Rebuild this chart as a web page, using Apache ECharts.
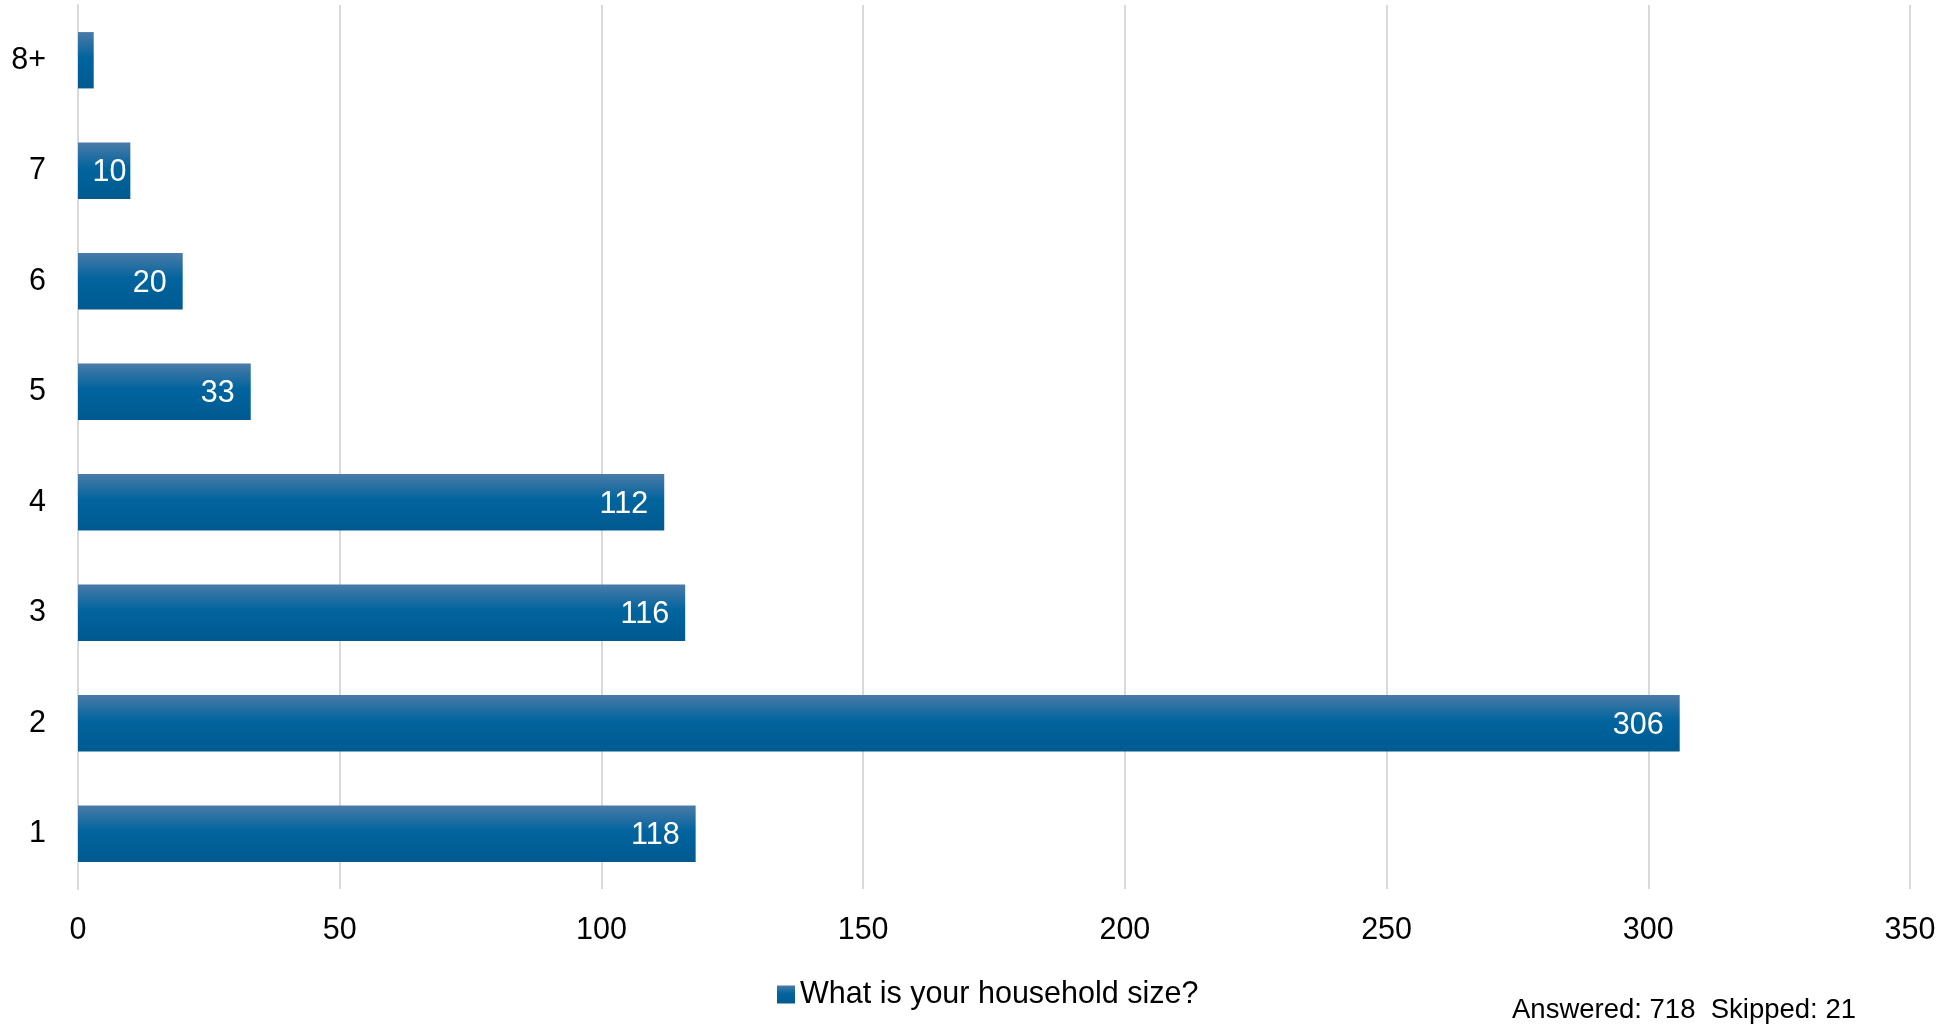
<!DOCTYPE html>
<html><head><meta charset="utf-8">
<script src="https://cdn.jsdelivr.net/npm/echarts@6/dist/echarts.min.js"></script>
<style>html,body{margin:0;padding:0;background:#fff}#c{width:1954px;height:1026px}</style>
</head><body><div id="c"></div>
<script>
const categories = ['1','2','3','4','5','6','7','8+'];
const values = [118, 306, 116, 112, 33, 20, 10, 3];
const labelShown = [true, true, true, true, true, true, true, false];
const seriesName = 'What is your household size?';
const footnote = 'Answered: 718  Skipped: 21';
const xMin = 0, xMax = 350, xInterval = 50;

const chart = echarts.init(document.getElementById('c'));
const font = '"Liberation Sans", Arial, sans-serif';
const grad = new echarts.graphic.LinearGradient(0, 0, 0, 1, [
  {offset: 0, color: '#4a7ba8'},
  {offset: 0.45, color: '#02649e'},
  {offset: 1, color: '#005a90'}
]);
chart.setOption({
  animation: false,
  grid: {left: 78, right: 44, top: 5, bottom: 137, containLabel: false},
  xAxis: {
    type: 'value', min: xMin, max: xMax, interval: xInterval,
    axisLine: {show: false}, axisTick: {show: false},
    splitLine: {show: true, lineStyle: {color: '#d9d9d9', width: 2}},
    axisLabel: {color: '#000', fontSize: 30.5, fontFamily: font, margin: 26}
  },
  yAxis: {
    type: 'category', data: categories,
    axisLine: {show: true, lineStyle: {color: '#d9d9d9', width: 2}},
    axisTick: {show: false},
    axisLabel: {color: '#000', fontSize: 30.5, fontFamily: font, margin: 32}
  },
  legend: {
    data: [seriesName], left: 772, top: 974, itemWidth: 18, itemHeight: 18, itemGap: 9,
    icon: 'rect',
    textStyle: {color: '#000', fontSize: 30.5, fontFamily: font}
  },
  series: [{
    name: seriesName, type: 'bar', barCategoryGap: '49%',
    data: values.map((v, i) => ({value: v, label: {show: labelShown[i], distance: v < 15 ? 4 : 16}})),
    itemStyle: {color: grad},
    label: {show: true, position: 'insideRight', color: '#fff', fontSize: 30.5, fontFamily: font, offset: [0, 2]}
  }],
  graphic: [{
    type: 'text', left: 1512, top: 996,
    style: {text: footnote, fill: '#000', fontSize: 27.5, fontFamily: font}
  }]
});
</script></body></html>
